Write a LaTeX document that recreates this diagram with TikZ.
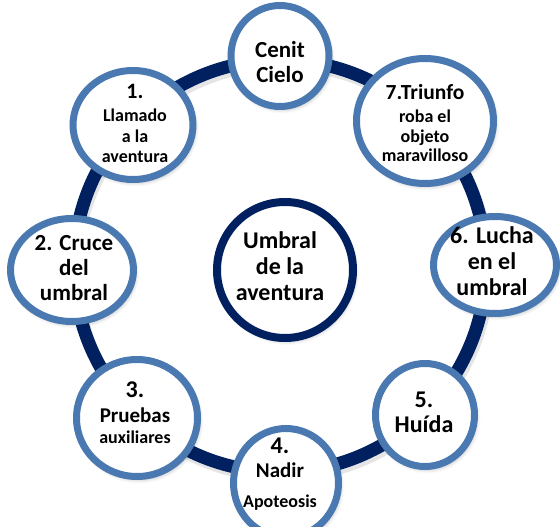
\documentclass[tikz,border=0pt]{standalone}
\usepackage{fontspec}
\setmainfont{Carlito}
\usetikzlibrary{shapes.geometric,shadows.blur}
\definecolor{ringnavy}{HTML}{002060}
\definecolor{stageblue}{HTML}{4A78B0}
\newcommand{\fs}[2]{\fontsize{#1}{#2}\selectfont}
\begin{document}
\begin{tikzpicture}[x=1pt,y=-1pt,
  softshadow/.style={blur shadow={shadow xshift=2pt, shadow yshift=-3pt,
      shadow blur radius=4pt, shadow opacity=30}},
  stage/.style={ellipse, draw=stageblue, line width=7pt, fill=white,
      inner sep=0pt, softshadow},
  hubdisc/.style={circle, draw=ringnavy, line width=8pt, fill=white,
      inner sep=0pt, minimum size=136pt, softshadow},
  txt/.style={align=center, inner sep=0pt, font=\bfseries}]
\useasboundingbox (0,0) rectangle (560,527);

% the journey ring
\coordinate (ringc) at (280,266);
\draw[line width=13pt, black, opacity=0.10] ([shift={(2,4)}]ringc) circle[radius=206pt];
\draw[line width=13pt, ringnavy] (ringc) circle[radius=206pt];

% centre disc
\node[hubdisc] (hub) at (285,270) {};
\node[txt, font=\bfseries\fs{24}{26}] (hubt) at (280,266) {Umbral\\de la\\aventura};

% stages around the ring
\node[stage, minimum width=98pt,  minimum height=101pt] (cenit) at (280,56)  {};
\node[stage, minimum width=120pt, minimum height=109pt] (s1)    at (133,125) {};
\node[stage, minimum width=137pt, minimum height=125pt] (s7)    at (425,121) {};
\node[stage, minimum width=123pt, minimum height=103pt] (s2)    at (72,270)  {};
\node[stage, minimum width=123pt, minimum height=97pt]  (s6)    at (495,265) {};
\node[stage, minimum width=99pt,  minimum height=103pt] (s5)    at (425,415) {};
\node[stage, minimum width=105pt, minimum height=109pt] (s4)    at (286,483) {};
\node[stage, minimum width=121pt, minimum height=117pt] (s3)    at (137,418) {};

% stage texts
\node[txt, font=\bfseries\fs{23}{25}] (cenitt) at (280,62) {Cenit\\Cielo};
\node[txt, font=\bfseries\fs{18}{20.5}] (s1t) at (135,123.5)
  {{\fs{22}{20.5}1.}\\[2.5pt]Llamado\\a la\\aventura};
\node[txt, font=\bfseries\fs{18}{19.5}] (s7t) at (425,123.5)
  {{\fs{21.5}{19.5}7.Triunfo}\\[3.5pt]roba el\\objeto\\maravilloso};
\node[txt, font=\bfseries\fs{23}{25}] (s2t) at (74,268.5) {2. Cruce\\del\\umbral};
\node[txt, font=\bfseries\fs{24}{26}] (s6t) at (492,261.5) {6. Lucha\\en el\\umbral};
\node[txt, font=\bfseries\fs{24}{25}] (s5t) at (424,412) {5.\\Huída};
\node[txt, font=\bfseries\fs{18}{24}] (s4t) at (280,474.5)
  {{\fs{24}{24}4.}\\{\fs{21}{24}Nadir}\\[6pt]Apoteosis};
\node[txt, font=\bfseries\fs{18}{21}] (s3t) at (135,413)
  {{\fs{24}{21}3.}\\[4pt]{\fs{21}{21}Pruebas}\\auxiliares};
\end{tikzpicture}
\end{document}
